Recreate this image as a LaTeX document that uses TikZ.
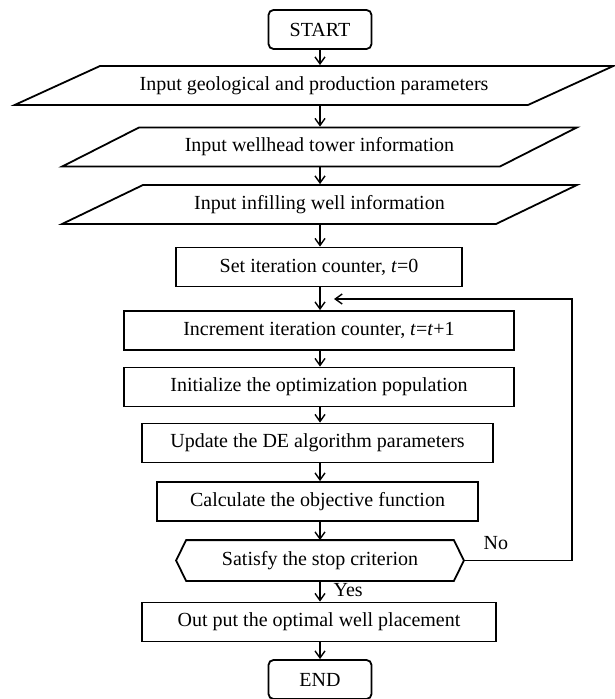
\documentclass[tikz,border=0pt]{standalone}
\usepackage{fontspec}
\setmainfont{Liberation Serif}
\usetikzlibrary{shapes.geometric,arrows.meta}

\begin{document}
\begin{tikzpicture}[x=0.5pt,y=0.5pt,line width=0.9pt,
    font=\fontsize{10}{12}\selectfont,
    box/.style={draw,rectangle,minimum height=19.5pt,inner sep=1pt},
    term/.style={box,rounded corners=2.5pt,minimum width=51.5pt},
    io/.style={draw,trapezium,trapezium stretches=true,minimum height=19.5pt,inner sep=1pt},
    arr/.style={-{Straight Barb[length=3.5pt,width=5pt]},line width=0.7pt}]
  \useasboundingbox (0,0) rectangle (614,-699);
  \coordinate (axis) at (320,0);
  \node[term] (start) at (320,-29.5) {START};
  \node[io,minimum width=300pt,trapezium left angle=17.5,trapezium right angle=162.5] (in1) at (314,-85.5) {Input geological and production parameters};
  \node[io,minimum width=257.5pt,trapezium left angle=21,trapezium right angle=159] (in2) at (319.5,-147) {Input wellhead tower information};
  \node[io,minimum width=257.5pt,trapezium left angle=21,trapezium right angle=159] (in3) at (319.5,-204.5) {Input infilling well information};
  \node[box,minimum width=143pt] (set) at (319,-267) {Set iteration counter, \textit{t}=0};
  \node[box,minimum width=195pt] (inc) at (319,-330.5) {Increment iteration counter, \textit{t}=\textit{t}+1};
  \node[box,minimum width=195pt] (init) at (319,-387) {Initialize the optimization population};
  \node[box,minimum width=175.5pt] (upd) at (317.5,-443) {Update the DE algorithm parameters};
  \node[box,minimum width=160.5pt] (calc) at (317.5,-501.5) {Calculate the objective function};
  \node[box,draw=none,minimum width=133pt] (stop) at (320,-560.5) {Satisfy the stop criterion};
  \draw (stop.north west) -- (stop.north east) -- ([xshift=5pt]stop.east) coordinate (stopE)
    -- (stop.south east) -- (stop.south west) -- ([xshift=-5pt]stop.west) -- cycle;
  \node[box,minimum width=177pt] (out) at (319,-622) {Out put the optimal well placement};
  \node[term] (end) at (320,-679.5) {END};

  % main flow
  \foreach \a/\b in {start/in1,in1/in2,in2/in3,in3/set,set/inc,inc/init,init/upd,upd/calc,calc/stop,stop/out,out/end}
    \draw[arr] (axis |- \a.south) -- (axis |- \b.north);

  % back loop
  \coordinate (turn) at (572,-299);
  \coordinate (join) at (334,-299);
  \draw[arr] (stopE) -- (stopE -| turn) |- (join);
  \node[anchor=west] (no) at (476,-543) {No};
  \node[anchor=west] (yes) at (326,-590) {Yes};
\end{tikzpicture}
\end{document}
